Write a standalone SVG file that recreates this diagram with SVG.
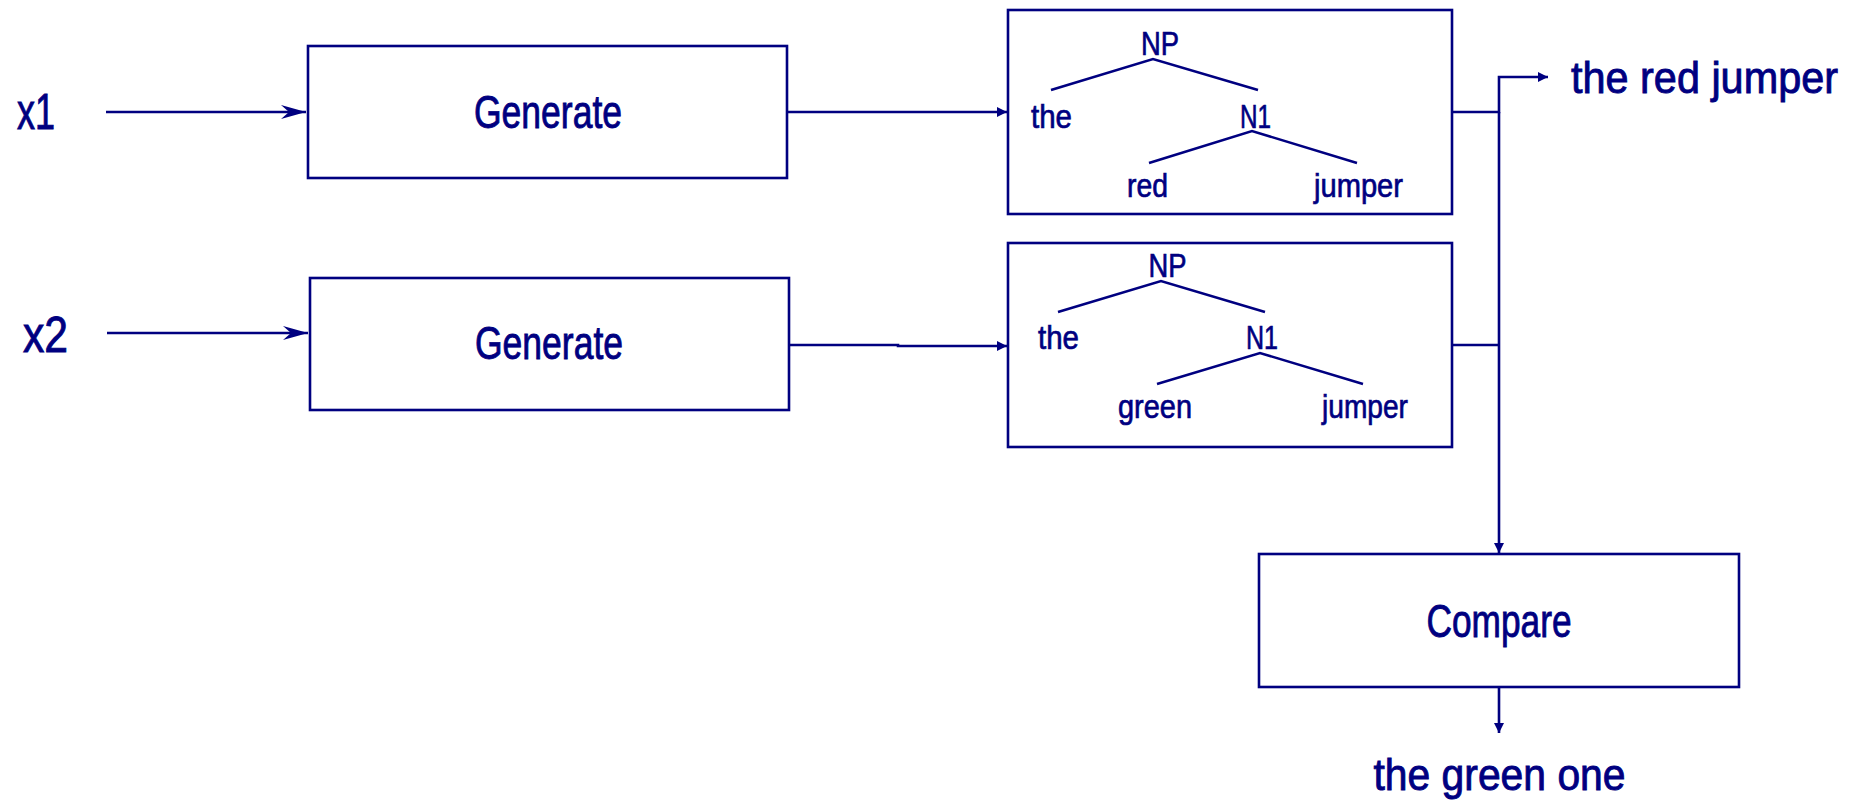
<svg xmlns="http://www.w3.org/2000/svg" width="1858" height="803" viewBox="0 0 1858 803">
  <style>
    .box { fill: #ffffff; stroke: #000080; stroke-width: 2.6; }
    .wire { fill: none; stroke: #000080; stroke-width: 2.6; }
    .branch { fill: none; stroke: #000080; stroke-width: 2.6; stroke-linecap: butt; }
    text { font-family: "Liberation Sans", Arial, sans-serif; fill: #000080; stroke: #000080; stroke-width: 0.9; }
    .big { font-size: 50px; }
    .label { font-size: 47px; text-anchor: middle; }
    .leaf { font-size: 34px; text-anchor: middle; stroke-width: 0.7; }
    .out { font-size: 45px; }
  </style>
  <defs>
    <marker id="stealth" viewBox="-26 -8 27 16" markerWidth="27" markerHeight="16" refX="0" refY="0" orient="auto" markerUnits="userSpaceOnUse">
      <path d="M-25,-7 L0,0 L-25,7 L-17,0 Z" fill="#000080"/>
    </marker>
    <marker id="tri" viewBox="-11 -6 12 12" markerWidth="12" markerHeight="12" refX="0" refY="0" orient="auto" markerUnits="userSpaceOnUse">
      <path d="M-10,-5 L0,0 L-10,5 Z" fill="#000080"/>
    </marker>
  </defs>

  <!-- inputs -->
  <g id="input-x1">
    <text class="big" x="17" y="129" textLength="38" lengthAdjust="spacingAndGlyphs">x1</text>
  </g>
  <g id="input-x2">
    <text class="big" x="23" y="352" textLength="45" lengthAdjust="spacingAndGlyphs">x2</text>
  </g>

  <!-- generators -->
  <g id="generate-1">
    <rect class="box" x="308" y="46" width="479" height="132"/>
    <text class="label" x="548" y="128" textLength="148" lengthAdjust="spacingAndGlyphs">Generate</text>
  </g>
  <g id="generate-2">
    <rect class="box" x="310" y="278" width="479" height="132"/>
    <text class="label" x="549" y="359" textLength="148" lengthAdjust="spacingAndGlyphs">Generate</text>
  </g>

  <!-- parse tree: the red jumper -->
  <g id="tree-1">
    <rect class="box" x="1008" y="10" width="444" height="204"/>
    <path class="branch" d="M1051,90 L1153,59 L1258,90 M1149,163 L1252,131 L1357,163"/>
    <text class="leaf" x="1160" y="55" textLength="38" lengthAdjust="spacingAndGlyphs">NP</text>
    <text class="leaf" x="1051.5" y="128" textLength="41" lengthAdjust="spacingAndGlyphs">the</text>
    <text class="leaf" x="1255.5" y="128" textLength="31" lengthAdjust="spacingAndGlyphs">N1</text>
    <text class="leaf" x="1147.5" y="197" textLength="41" lengthAdjust="spacingAndGlyphs">red</text>
    <text class="leaf" x="1358.5" y="197" textLength="89" lengthAdjust="spacingAndGlyphs">jumper</text>
  </g>

  <!-- parse tree: the green jumper -->
  <g id="tree-2">
    <rect class="box" x="1008" y="243" width="444" height="204"/>
    <path class="branch" d="M1058,312 L1161,281 L1265,312 M1157,384 L1260,353 L1363,384"/>
    <text class="leaf" x="1167.5" y="277" textLength="38" lengthAdjust="spacingAndGlyphs">NP</text>
    <text class="leaf" x="1058.5" y="349" textLength="41" lengthAdjust="spacingAndGlyphs">the</text>
    <text class="leaf" x="1262" y="349" textLength="32" lengthAdjust="spacingAndGlyphs">N1</text>
    <text class="leaf" x="1155" y="418" textLength="74" lengthAdjust="spacingAndGlyphs">green</text>
    <text class="leaf" x="1365" y="418" textLength="86" lengthAdjust="spacingAndGlyphs">jumper</text>
  </g>

  <!-- comparison -->
  <g id="compare">
    <rect class="box" x="1259" y="554" width="480" height="133"/>
    <text class="label" x="1499" y="637" textLength="145" lengthAdjust="spacingAndGlyphs">Compare</text>
  </g>

  <!-- outputs -->
  <g id="output-red">
    <text class="out" x="1571" y="93" textLength="267" lengthAdjust="spacingAndGlyphs">the red jumper</text>
  </g>
  <g id="output-green">
    <text class="out" x="1499.5" y="790" text-anchor="middle" textLength="252" lengthAdjust="spacingAndGlyphs">the green one</text>
  </g>

  <!-- connectors -->
  <g id="connectors">
    <path class="wire" d="M106,112 H306" marker-end="url(#stealth)"/>
    <path class="wire" d="M107,333 H308" marker-end="url(#stealth)"/>
    <path class="wire" d="M787,112 H1007" marker-end="url(#tri)"/>
    <path class="wire" d="M789,345 H898 V346 H1007" marker-end="url(#tri)"/>
    <path class="wire" d="M1452,112 H1499 V77 H1548" marker-end="url(#tri)"/>
    <path class="wire" d="M1452,345 H1499"/>
    <path class="wire" d="M1499,112 V553" marker-end="url(#tri)"/>
    <path class="wire" d="M1499,687 V733" marker-end="url(#tri)"/>
  </g>
</svg>
